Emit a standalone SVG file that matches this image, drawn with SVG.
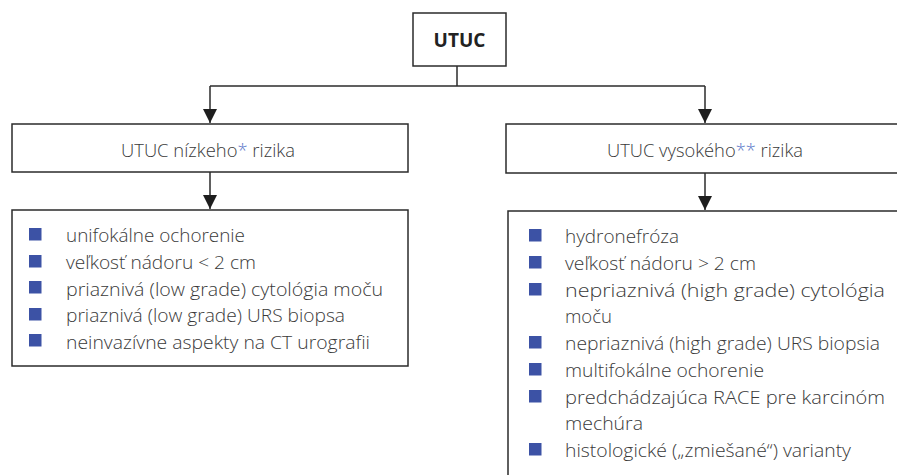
<svg xmlns="http://www.w3.org/2000/svg" width="897" height="475" viewBox="0 0 897 475">
<defs>
<style>
.box{fill:#fff;stroke:#2b2b2b;stroke-width:1.5}
.ln{fill:none;stroke:#2b2b2b;stroke-width:1.5}
.t{font-family:"Open Sans","Noto Sans",sans-serif;font-weight:300;font-size:18.5px;fill:#3a3a3a}
.b{font-family:"Open Sans","Noto Sans",sans-serif;font-weight:700;font-size:19px;fill:#222}
.ast{fill:#5b78c9}
.bul{fill:#3c52a5}
</style>
<marker id="arr" markerUnits="userSpaceOnUse" markerWidth="14" markerHeight="18" refX="14" refY="7" orient="auto">
<path d="M0,0 L14,7 L0,14 Z" fill="#1e1e1e"/>
</marker>
</defs>
<rect width="897" height="475" fill="#fff"/>
<g id="connectors">
<path class="ln" d="M457,66 V86"/>
<path class="ln" d="M210,86 H705"/>
<path class="ln" d="M210,86 V123" marker-end="url(#arr)"/>
<path class="ln" d="M705,86 V123" marker-end="url(#arr)"/>
<path class="ln" d="M210,172 V209" marker-end="url(#arr)"/>
<path class="ln" d="M705,173 V210" marker-end="url(#arr)"/>
</g>
<g id="utuc">
<rect class="box" x="413" y="13" width="93" height="53"/>
<text class="b" x="459.5" y="47" text-anchor="middle">UTUC</text>
</g>
<g id="low-risk">
<rect class="box" x="12" y="124" width="396" height="48"/>
<text class="t" x="121" y="157" textLength="174" lengthAdjust="spacingAndGlyphs">UTUC nízkeho<tspan class="ast">*</tspan> rizika</text>
</g>
<g id="high-risk">
<rect class="box" x="506" y="124" width="400" height="49"/>
<text class="t" x="607" y="157" textLength="196" lengthAdjust="spacingAndGlyphs">UTUC vysokého<tspan class="ast">**</tspan> rizika</text>
</g>
<g id="low-list">
<rect class="box" x="12" y="210" width="396" height="156"/>
<rect class="bul" x="29" y="228" width="12.5" height="12.5"/>
<rect class="bul" x="29" y="255" width="12.5" height="12.5"/>
<rect class="bul" x="29" y="281" width="12.5" height="12.5"/>
<rect class="bul" x="29" y="308" width="12.5" height="12.5"/>
<rect class="bul" x="29" y="334" width="12.5" height="12.5"/>
<text class="t" x="66" y="242" textLength="179" lengthAdjust="spacingAndGlyphs">unifokálne ochorenie</text>
<text class="t" x="66" y="269" textLength="190" lengthAdjust="spacingAndGlyphs">veľkosť nádoru &lt; 2 cm</text>
<text class="t" x="66" y="295.5" textLength="317" lengthAdjust="spacingAndGlyphs">priaznivá (low grade) cytológia moču</text>
<text class="t" x="66" y="322" textLength="279" lengthAdjust="spacingAndGlyphs">priaznivá (low grade) URS biopsa</text>
<text class="t" x="66" y="348.5" textLength="304" lengthAdjust="spacingAndGlyphs">neinvazívne aspekty na CT urografii</text>
</g>
<g id="high-list">
<rect class="box" x="508" y="211" width="400" height="300"/>
<rect class="bul" x="529" y="229" width="12.5" height="12.5"/>
<rect class="bul" x="529" y="256" width="12.5" height="12.5"/>
<rect class="bul" x="529" y="283" width="12.5" height="12.5"/>
<rect class="bul" x="529" y="336" width="12.5" height="12.5"/>
<rect class="bul" x="529" y="363" width="12.5" height="12.5"/>
<rect class="bul" x="529" y="390" width="12.5" height="12.5"/>
<rect class="bul" x="529" y="443" width="12.5" height="12.5"/>
<text class="t" x="565" y="243" textLength="114" lengthAdjust="spacingAndGlyphs">hydronefróza</text>
<text class="t" x="565" y="270" textLength="191" lengthAdjust="spacingAndGlyphs">veľkosť nádoru &gt; 2 cm</text>
<text class="t" x="565" y="296.5" textLength="320" lengthAdjust="spacingAndGlyphs">nepriaznivá (high grade) cytológia</text>
<text class="t" x="565" y="323" textLength="47" lengthAdjust="spacingAndGlyphs">moču</text>
<text class="t" x="565" y="350" textLength="315" lengthAdjust="spacingAndGlyphs">nepriaznivá (high grade) URS biopsia</text>
<text class="t" x="565" y="377" textLength="199" lengthAdjust="spacingAndGlyphs">multifokálne ochorenie</text>
<text class="t" x="565" y="403.5" textLength="320" lengthAdjust="spacingAndGlyphs">predchádzajúca RACE pre karcinóm</text>
<text class="t" x="565" y="430" textLength="78" lengthAdjust="spacingAndGlyphs">mechúra</text>
<text class="t" x="565" y="457" textLength="286" lengthAdjust="spacingAndGlyphs">histologické („zmiešané“) varianty</text>
</g>
</svg>
